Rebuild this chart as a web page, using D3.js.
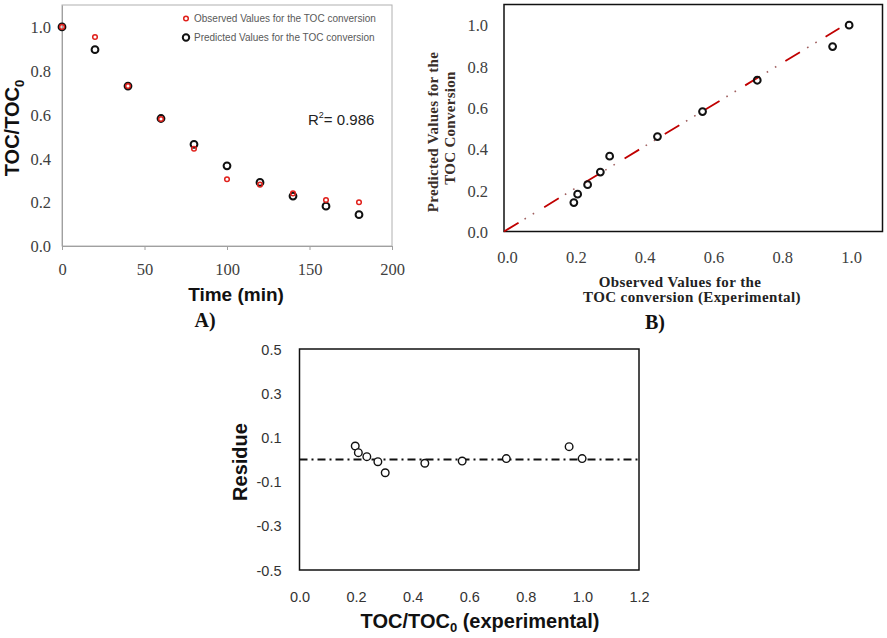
<!DOCTYPE html>
<html lang="en">
<head>
<meta charset="UTF-8">
<title>TOC conversion</title>
<script src="https://d3js.org/d3.v7.min.js"></script>
<style>
  body { margin: 0; background: #fff; }
  svg { display: block; }
</style>
</head>
<body>
<svg id="chart" width="887" height="638"></svg>
<script>
// panel A: TOC/TOC0 vs time
const times = [0, 20, 40, 60, 80, 100, 120, 140, 160, 180];
const observed = [1.0, 0.954, 0.73, 0.58, 0.444, 0.305, 0.28, 0.24, 0.21, 0.20];
const predicted = [1.0, 0.896, 0.73, 0.582, 0.464, 0.366, 0.29, 0.228, 0.182, 0.143];
const timeTicks = [0, 50, 100, 150, 200];
const ratioTicks = [0, 0.2, 0.4, 0.6, 0.8, 1.0];

// panel B: predicted vs observed with fit line
const bObserved = [1.003, 0.955, 0.736, 0.577, 0.446, 0.307, 0.28, 0.243, 0.214, 0.203];
const bPredicted = [1.0, 0.896, 0.733, 0.581, 0.46, 0.365, 0.288, 0.227, 0.181, 0.14];
const fitX = [0, 0.975];
const fitY = [0, 0.985];
const bTicks = [0, 0.2, 0.4, 0.6, 0.8, 1.0];

// panel C: residues
const resX = [0.197, 0.208, 0.238, 0.277, 0.303, 0.443, 0.575, 0.731, 0.953, 0.999];
const resY = [0.061, 0.031, 0.013, -0.01, -0.06, -0.017, -0.007, 0.004, 0.058, 0.004];
const resXTicks = [0, 0.2, 0.4, 0.6, 0.8, 1.0, 1.2];
const resYTicks = [0.5, 0.3, 0.1, -0.1, -0.3, -0.5];

const svg = d3.select("#chart");
const serif = "'Liberation Serif', 'DejaVu Serif', serif";
const sans = "'Liberation Sans', Arial, sans-serif";
const fmt1 = d => d.toFixed(1);

// ---------- A ----------
const ax = d3.scaleLinear().domain([0, 200]).range([62, 392]);
const ay = d3.scaleLinear().domain([0, 1.1]).range([246, 5]);

svg.append("rect")
  .attr("x", 62).attr("y", 5).attr("width", 330).attr("height", 241)
  .attr("fill", "none").attr("stroke", "#b0b0b0").attr("stroke-width", 1);

const axA = svg.append("g").attr("transform", "translate(0,246)")
  .call(d3.axisBottom(ax).tickValues(timeTicks).tickSize(4).tickSizeOuter(0));
axA.select(".domain").attr("stroke", "#a0a0a0");
axA.selectAll(".tick line").attr("stroke", "#a0a0a0");
axA.selectAll("text").attr("font-family", serif).attr("font-size", 16.5)
  .attr("fill", "#404040").attr("dy", 0).attr("y", 29);

const ayA = svg.append("g").attr("transform", "translate(62,0)")
  .call(d3.axisLeft(ay).tickValues(ratioTicks).tickSize(0).tickFormat(fmt1));
ayA.select(".domain").attr("stroke", "#a0a0a0");
ayA.selectAll("text").attr("font-family", serif).attr("font-size", 16.5)
  .attr("fill", "#404040").attr("x", -11).attr("dy", "0.35em");

svg.append("g").selectAll("circle").data(times).join("circle")
  .attr("cx", d => ax(d)).attr("cy", (d, i) => ay(predicted[i])).attr("r", 3.4)
  .attr("fill", "none").attr("stroke", "#111").attr("stroke-width", 2);
svg.append("g").selectAll("circle").data(times).join("circle")
  .attr("cx", d => ax(d)).attr("cy", (d, i) => ay(observed[i])).attr("r", 2.3)
  .attr("fill", "none").attr("stroke", "#e0201b").attr("stroke-width", 1.5);

// legend
svg.append("circle").attr("cx", 186).attr("cy", 18.5).attr("r", 2.3)
  .attr("fill", "none").attr("stroke", "#e0201b").attr("stroke-width", 1.5);
svg.append("circle").attr("cx", 186).attr("cy", 37.5).attr("r", 3.2)
  .attr("fill", "none").attr("stroke", "#111").attr("stroke-width", 2);
svg.append("text").attr("x", 194).attr("y", 22).attr("font-family", sans)
  .attr("font-size", 10).attr("fill", "#595959").text("Observed Values for the TOC conversion");
svg.append("text").attr("x", 194).attr("y", 41).attr("font-family", sans)
  .attr("font-size", 10).attr("fill", "#595959").text("Predicted Values for the TOC conversion");

const r2 = svg.append("text").attr("x", 308).attr("y", 125).attr("font-family", sans)
  .attr("font-size", 15).attr("fill", "#222");
r2.append("tspan").text("R");
r2.append("tspan").attr("font-size", 9).attr("dy", -7).text("2");
r2.append("tspan").attr("dy", 7).text("= 0.986");

const yTitleA = svg.append("text").attr("transform", "translate(19,128) rotate(-90)")
  .attr("text-anchor", "middle").attr("font-family", sans).attr("font-weight", "bold")
  .attr("font-size", 20).attr("fill", "#111");
yTitleA.append("tspan").text("TOC/TOC");
yTitleA.append("tspan").attr("font-size", 13).attr("dy", 5).text("0");

svg.append("text").attr("x", 236).attr("y", 301).attr("text-anchor", "middle")
  .attr("font-family", sans).attr("font-weight", "bold").attr("font-size", 19)
  .attr("fill", "#111").text("Time (min)");
svg.append("text").attr("x", 205).attr("y", 327).attr("text-anchor", "middle")
  .attr("font-family", serif).attr("font-weight", "bold").attr("font-size", 20)
  .attr("fill", "#111").text("A)");

// ---------- B ----------
const bx = d3.scaleLinear().domain([0, 1.1]).range([504, 882.5]);
const by = d3.scaleLinear().domain([0, 1.1]).range([231.5, 4.5]);

svg.append("rect")
  .attr("x", 504).attr("y", 4.5).attr("width", 378.5).attr("height", 227)
  .attr("fill", "none").attr("stroke", "#111").attr("stroke-width", 1.5);

const bxA = svg.append("g").attr("transform", "translate(0,231.5)")
  .call(d3.axisBottom(bx).tickValues(bTicks).tickSize(0).tickFormat(fmt1));
bxA.select(".domain").remove();
bxA.selectAll("text").attr("font-family", serif).attr("font-size", 16.5)
  .attr("fill", "#404040").attr("dy", 0).attr("y", 31).attr("dx", 3);

const byA = svg.append("g").attr("transform", "translate(504,0)")
  .call(d3.axisLeft(by).tickValues(bTicks).tickSize(0).tickFormat(fmt1));
byA.select(".domain").remove();
byA.selectAll("text").attr("font-family", serif).attr("font-size", 16.5)
  .attr("fill", "#404040").attr("x", -16).attr("dy", "0.35em");

const fitLine = d3.line().x(d => bx(d[0])).y(d => by(d[1]));
const fitPts = d3.zip(fitX, fitY);
svg.append("path").attr("d", fitLine(fitPts)).attr("fill", "none")
  .attr("stroke", "#c00000").attr("stroke-width", 1.8)
  .attr("stroke-dasharray", "17,30");
svg.append("path").attr("d", fitLine(fitPts)).attr("fill", "none")
  .attr("stroke", "#a06060").attr("stroke-width", 1.6)
  .attr("stroke-dasharray", "0,24,1.6,8,1.6,12");

svg.append("g").selectAll("circle").data(bObserved).join("circle")
  .attr("cx", d => bx(d)).attr("cy", (d, i) => by(bPredicted[i])).attr("r", 3.4)
  .attr("fill", "none").attr("stroke", "#111").attr("stroke-width", 2);

const byt = svg.append("g").attr("font-family", serif).attr("font-weight", "bold")
  .attr("font-size", 15).attr("fill", "#3a2e28").attr("text-anchor", "middle")
  .attr("letter-spacing", 0.3);
byt.append("text").attr("transform", "translate(438,132) rotate(-90)").text("Predicted Values for the");
byt.append("text").attr("transform", "translate(455,128) rotate(-90)").text("TOC Conversion");

const bxt = svg.append("g").attr("font-family", serif).attr("font-weight", "bold")
  .attr("font-size", 15).attr("fill", "#222").attr("text-anchor", "middle")
  .attr("letter-spacing", 0.4);
bxt.append("text").attr("x", 680).attr("y", 287).text("Observed Values for the");
bxt.append("text").attr("x", 692).attr("y", 302).text("TOC conversion (Experimental)");
svg.append("text").attr("x", 655).attr("y", 329).attr("text-anchor", "middle")
  .attr("font-family", serif).attr("font-weight", "bold").attr("font-size", 20)
  .attr("fill", "#111").text("B)");

// ---------- C ----------
const cx = d3.scaleLinear().domain([0, 1.2]).range([299.5, 639]);
const cy = d3.scaleLinear().domain([-0.5, 0.5]).range([570, 349]);

svg.append("rect")
  .attr("x", 299.5).attr("y", 349).attr("width", 339.5).attr("height", 221)
  .attr("fill", "none").attr("stroke", "#111").attr("stroke-width", 1.5);

const cxA = svg.append("g").attr("transform", "translate(0,570)")
  .call(d3.axisBottom(cx).tickValues(resXTicks).tickSize(0).tickFormat(fmt1));
cxA.select(".domain").remove();
cxA.selectAll("text").attr("font-family", sans).attr("font-size", 14.5)
  .attr("fill", "#333").attr("dy", 0).attr("y", 32);

const cyA = svg.append("g").attr("transform", "translate(299.5,0)")
  .call(d3.axisLeft(cy).tickValues(resYTicks).tickSize(0).tickFormat(fmt1));
cyA.select(".domain").remove();
cyA.selectAll("text").attr("font-family", sans).attr("font-size", 14.5)
  .attr("fill", "#333").attr("x", -18).attr("dy", "0.35em");

svg.append("line").attr("x1", cx(0)).attr("x2", cx(1.2)).attr("y1", cy(0)).attr("y2", cy(0))
  .attr("stroke", "#111").attr("stroke-width", 1.8).attr("stroke-dasharray", "8,4,2,4");

svg.append("g").selectAll("circle").data(resX).join("circle")
  .attr("cx", d => cx(d)).attr("cy", (d, i) => cy(resY[i])).attr("r", 3.8)
  .attr("fill", "#fff").attr("stroke", "#111").attr("stroke-width", 1.4);

svg.append("text").attr("transform", "translate(247,462) rotate(-90)")
  .attr("text-anchor", "middle").attr("font-family", sans).attr("font-weight", "bold")
  .attr("font-size", 20).attr("fill", "#111").text("Residue");

const cxt = svg.append("text").attr("x", 480).attr("y", 628).attr("text-anchor", "middle")
  .attr("font-family", sans).attr("font-weight", "bold").attr("font-size", 20).attr("fill", "#111");
cxt.append("tspan").text("TOC/TOC");
cxt.append("tspan").attr("font-size", 13).attr("dy", 4).text("0");
cxt.append("tspan").attr("dy", -4).text(" (experimental)");
</script>
</body>
</html>
